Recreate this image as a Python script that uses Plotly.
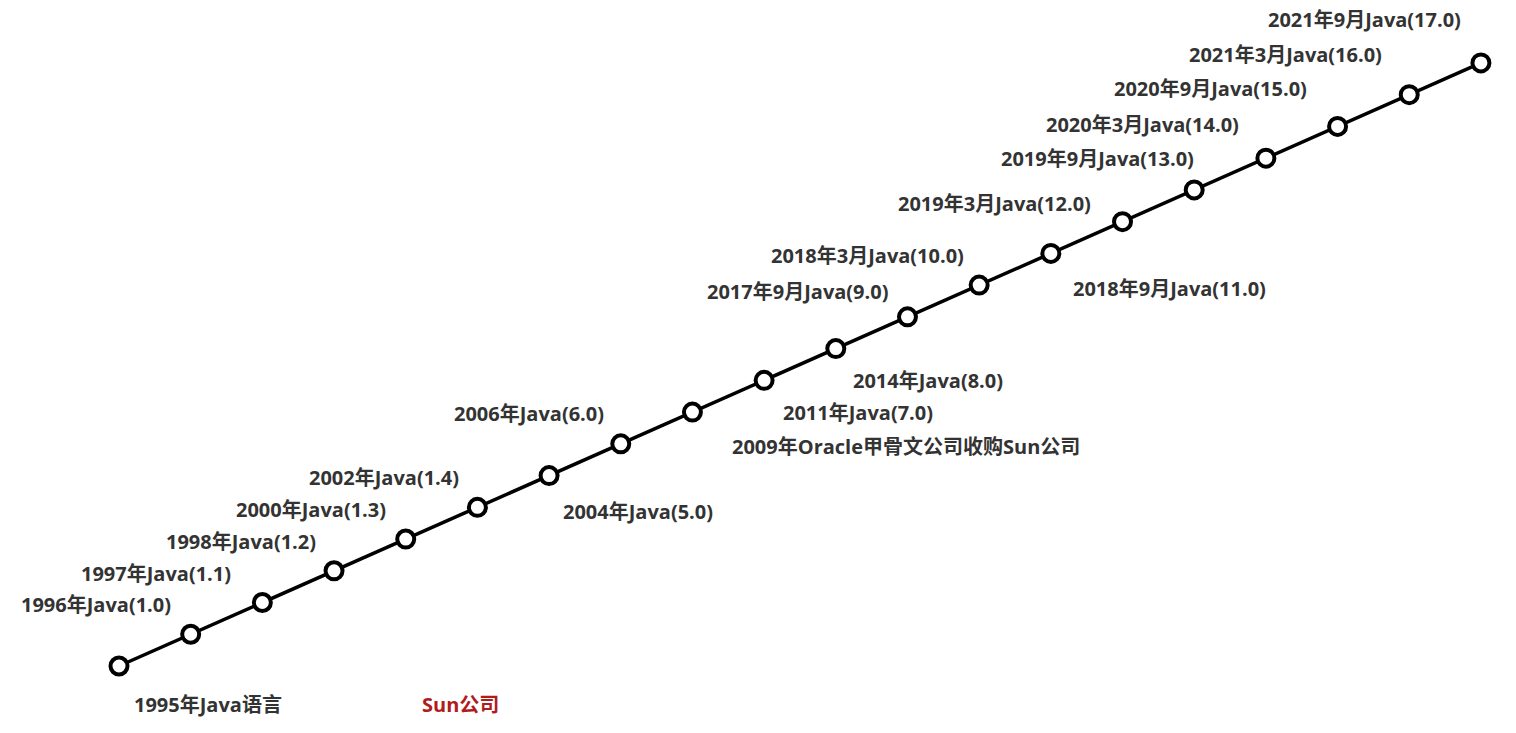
import plotly.graph_objects as go

labels = ["1995年Java语言","1996年Java(1.0)","1997年Java(1.1)","1998年Java(1.2)","2000年Java(1.3)",
          "2002年Java(1.4)","2004年Java(5.0)","2006年Java(6.0)","2009年Oracle甲骨文公司收购Sun公司",
          "2011年Java(7.0)","2014年Java(8.0)","2017年9月Java(9.0)","2018年3月Java(10.0)",
          "2018年9月Java(11.0)","2019年3月Java(12.0)","2019年9月Java(13.0)","2020年3月Java(14.0)",
          "2020年9月Java(15.0)","2021年3月Java(16.0)","2021年9月Java(17.0)"]
steps = list(range(20))
# label centre positions in screen pixels (layout)
label_px = [(207,703),(95,603),(155,572),(240,540),(310,508),(383,476),(637,510),(528,412),
            (905,445),(857,411),(927,379),(796,290),(866,254),(1168,287),(993,202),(1096,157),
            (1141,123),(1209,87),(1284,53),(1363,18)]
extra_label = "Sun公司"

OFF = 7
X0, Y0, DX, DY = 118 - OFF, 665 - OFF, 71.68, 31.74
def to_data(px, py):
    return (px - OFF - X0) / DX, (Y0 - (py - OFF)) / DY

fig = go.Figure(go.Scatter(x=steps, y=steps, mode="lines+markers",
    line=dict(color="black", width=3.5),
    marker=dict(size=17, color="white", line=dict(color="black", width=4)),
    hoverinfo="skip"))

fam = "Open Sans, Noto Sans CJK SC"
font = dict(family=fam, size=20, color="#333333")
for t, (px, py) in zip(labels, label_px):
    x, y = to_data(px, py)
    fig.add_annotation(x=x, y=y, text="<b>%s</b>" % t, showarrow=False, font=font)
x, y = to_data(459, 703)
fig.add_annotation(x=x, y=y, text="<b>%s</b>" % extra_label, showarrow=False,
                   font=dict(family=fam, size=20, color="#b01c1c"))

fig.update_layout(width=1516, height=733, margin=dict(l=0, r=0, t=0, b=0),
    plot_bgcolor="white", paper_bgcolor="white", showlegend=False,
    xaxis=dict(range=[-X0/DX, (1516-X0)/DX], visible=False),
    yaxis=dict(range=[-(733-Y0)/DY, Y0/DY], visible=False))
fig.write_html("out.html")
